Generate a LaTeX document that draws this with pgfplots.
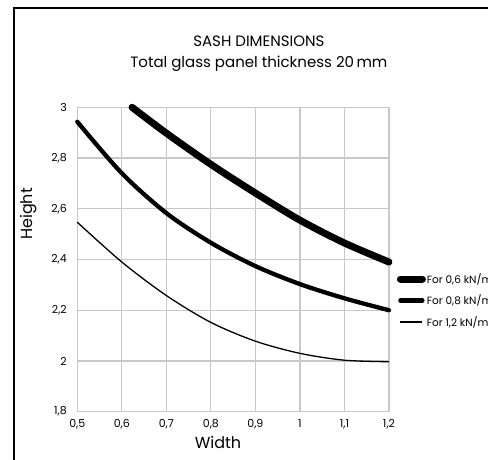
\documentclass[border=0pt]{standalone}
\usepackage{pgfplots}
\pgfplotsset{compat=1.18}
\usepackage{fontspec}
\setmainfont{Poppins}
\definecolor{gridgray}{RGB}{200,200,200}
\begin{document}
\begin{tikzpicture}[x=1pt,y=1pt]
\begin{axis}[
  at={(0,0)}, anchor=south west,
  scale only axis, width=311.7pt, height=304.4pt,
  xmin=0.5, xmax=1.2, ymin=1.8, ymax=3,
  xtick={0.5,0.6,0.7,0.8,0.9,1.0,1.1,1.2},
  ytick={1.8,2.0,2.2,2.4,2.6,2.8,3.0},
  xticklabels={{0,5},{0,6},{0,7},{0,8},{0,9},{1},{1,1},{1,2}},
  yticklabels={{1,8},{2},{2,2},{2,4},{2,6},{2,8},{3}},
  grid=major,
  major grid style={gridgray, line width=1.2pt},
  axis line style={gridgray, line width=1.2pt},
  major tick length=0pt,
  tick label style={font=\fontsize{11}{12}\selectfont},
  xticklabel style={yshift=-4pt},
  yticklabel style={xshift=-7pt},
  legend style={draw=none, fill=none, at={(axis cs:1.2173,2.35)}, anchor=north west,
    inner sep=0pt, row sep=8pt, font=\fontsize{10.5}{12}\selectfont,
    nodes={inner sep=1pt}},
  legend cell align=left,
  legend image code/.code={\draw[#1] (0pt,0pt) -- (22pt,0pt);},
  clip=false,
]
\addplot[black, line width=7pt, line cap=round, smooth] coordinates {
(0.623,3.0) (0.7,2.898) (0.8,2.775) (0.9,2.662) (1.0,2.555) (1.1,2.465) (1.2,2.39)};
\addlegendentry{For 0,6 kN/m$^2$}
\addplot[black, line width=4.3pt, line cap=round, smooth] coordinates {
(0.5,2.943) (0.6,2.74) (0.7,2.583) (0.8,2.466) (0.9,2.374) (1.0,2.303) (1.1,2.247) (1.2,2.2)};
\addlegendentry{For 0,8 kN/m$^2$}
\addplot[black, line width=1.3pt, smooth] coordinates {
(0.5,2.547) (0.6,2.39) (0.7,2.258) (0.8,2.152) (0.9,2.078) (1.0,2.03) (1.1,2.003) (1.2,1.997)};
\addlegendentry{For 1,2 kN/m$^2$}
\end{axis}
\node[anchor=base, font=\fontsize{15}{18}\selectfont] at (181.6,365) {SASH DIMENSIONS};
\node[anchor=base, font=\fontsize{15}{18}\selectfont] at (181.6,344.4) {Total glass panel thickness 20\,mm};
\node[anchor=base, font=\fontsize{16}{18}\selectfont] at (140.7,-36.3) {Width};
\node[anchor=base, rotate=90, font=\fontsize{16}{18}\selectfont] at (-44.3,197.7) {Height};
\draw[line width=2pt] (-63.3,-80) -- (-63.3,403.7) -- (450,403.7);
\pgfresetboundingbox
\path (-77.3,-47.3) rectangle (410.7,411.7);
\end{tikzpicture}
\end{document}
